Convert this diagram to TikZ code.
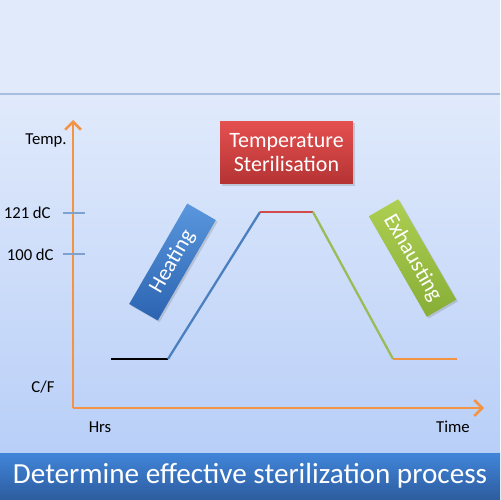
\documentclass[tikz,border=0pt]{standalone}
\usepackage{fontspec}
\setmainfont{Carlito}
\usetikzlibrary{arrows.meta,shadows}
\definecolor{bgtop}{HTML}{E0EAFB}
\definecolor{bgbot}{HTML}{B9CFF8}
\definecolor{sepline}{HTML}{A6BEE0}
\definecolor{barTop}{HTML}{4186DB}
\definecolor{barBot}{HTML}{2D5C9E}
\definecolor{axis}{HTML}{F39444}
\definecolor{tick}{HTML}{7FA1CF}
\definecolor{lblue}{HTML}{4A7FC0}
\definecolor{lred}{HTML}{D24B4B}
\definecolor{lgreen}{HTML}{9BBB59}
\definecolor{redTop}{HTML}{E55050}
\definecolor{redBot}{HTML}{B53333}
\definecolor{blueTop}{HTML}{5A97DE}
\definecolor{blueBot}{HTML}{2B63B0}
\definecolor{greenTop}{HTML}{ADCF52}
\definecolor{greenBot}{HTML}{88AE36}
\tikzset{
  lbl/.style={inner sep=0pt, font=\fontsize{9.5}{11}\selectfont, text=black},
  axisline/.style={draw=axis, line width=1.5pt, -{Straight Barb[length=4.5pt,width=9pt,line width=1.5pt]}},
  tickline/.style={draw=tick, line width=0.6pt},
  seg/.style={line width=1.3pt},
  phasebox/.style={draw=none, text=white, align=center, inner sep=2pt,
     font=\fontsize{12.5}{15}\selectfont, drop shadow={opacity=0.3, shadow xshift=1pt, shadow yshift=-1pt}},
}
\begin{document}
\begin{tikzpicture}[x=0.02cm,y=-0.02cm]
\useasboundingbox (0,0) rectangle (500,500);
% background
\fill[bgtop] (0,0) rectangle (500,94);
\shade[top color=bgtop, bottom color=bgbot] (0,94) rectangle (500,452);
\draw[sepline, line width=1pt] (0,94) -- (500,94);
\shade[top color=barTop, bottom color=barBot] (0,452) rectangle (500,500);
\draw[white!60!barTop, line width=0.8pt] (0,452.5) -- (500,452.5);
\node[text=white, font=\fontsize{16.6}{20}\selectfont, inner sep=0pt] (title) at (250,476) {Determine effective sterilization process};
% axes
\coordinate (origin) at (73,408);
\coordinate (ytop) at (73,120);
\coordinate (xend) at (484,408);
\draw[axisline] (origin) -- (ytop);
\draw[axisline] (origin) -- (xend);
% ticks
\coordinate (t1a) at (63,213); \coordinate (t1b) at (85,213);
\coordinate (t2a) at (63,254); \coordinate (t2b) at (85,254);
\draw[tickline] (t1a) -- (t1b);
\draw[tickline] (t2a) -- (t2b);
% labels
\node[lbl, anchor=east] (temp) at (67,140) {Temp.};
\node[lbl, anchor=east] (l121) at (51,213) {121 dC};
\node[lbl, anchor=east] (l100) at (54,255) {100 dC};
\node[lbl] (cf) at (43,387) {C/F};
\node[lbl] (hrs) at (100,427) {Hrs};
\node[lbl] (time) at (453,427) {Time};
% profile
\coordinate (p1) at (111,359);
\coordinate (p2) at (168,359);
\coordinate (p3) at (260,212);
\coordinate (p4) at (313,212);
\coordinate (p5) at (393,359);
\coordinate (p6) at (457,359);
\draw[seg, black] (p1) -- (p2);
\draw[seg, lblue] (p2) -- (p3);
\draw[seg, lred] (p3) -- (p4);
\draw[seg, lgreen] (p4) -- (p5);
\draw[seg, axis] (p5) -- (p6);
% phase boxes
\node[phasebox, top color=redTop, bottom color=redBot, minimum width=2.66cm, minimum height=1.26cm] (ster) at (286.5,152.5) {Temperature\\[-1pt]Sterilisation};
\node[phasebox, top color=blueTop, bottom color=blueBot, minimum width=2.32cm, minimum height=0.66cm, rotate=60] (heat) at (172.5,262) {Heating};
\node[phasebox, top color=greenTop, bottom color=greenBot, minimum width=2.32cm, minimum height=0.68cm, rotate=-60] (exh) at (412.5,258) {Exhausting};
\end{tikzpicture}
\end{document}
